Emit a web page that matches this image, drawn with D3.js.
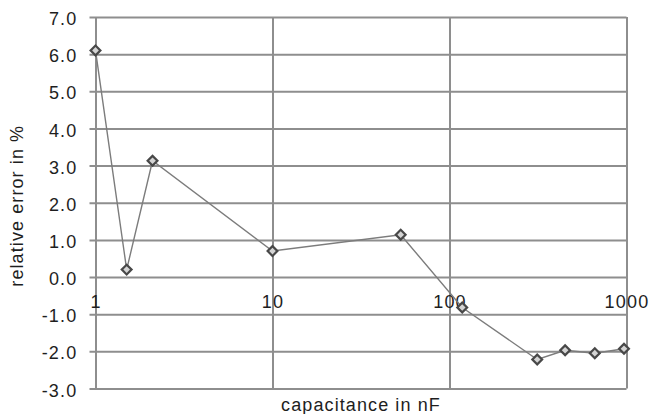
<!DOCTYPE html>
<html>
<head>
<meta charset="utf-8">
<script src="https://cdn.jsdelivr.net/npm/d3@7"></script>
<style>
  html, body { margin: 0; padding: 0; background: #fff; }
  svg { display: block; }
  text { font-family: "Liberation Sans", Arial, sans-serif; fill: #1e1e1e; }
</style>
</head>
<body>
<svg id="chart" width="662" height="414"></svg>
<script>
// ---- data ----
const capacitance = [1.0, 1.5, 2.1, 10, 53, 118, 313, 450, 662, 968];
const relError    = [6.1, 0.2, 3.13, 0.7, 1.14, -0.82, -2.22, -1.97, -2.05, -1.93];
const xTicks = [1, 10, 100, 1000];
const xTickLabels = ["1", "10", "100", "1000"];
const yTicks = [-3, -2, -1, 0, 1, 2, 3, 4, 5, 6, 7];
const xTitle = "capacitance in nF";
const yTitle = "relative error in %";

// ---- layout ----
const mLeft = 95.5, mRight = 626.5, mTop = 17, mBottom = 388.5;
const svg = d3.select("#chart");
const x = d3.scaleLog().domain([1, 1000]).range([mLeft, mRight]);
const y = d3.scaleLinear().domain([-3, 7]).range([mBottom, mTop]);

const gridColor = "#8e8e8e";
const fmtY = d => d.toFixed(1);

// horizontal gridlines + y tick labels
const yAxis = svg.append("g")
  .attr("transform", `translate(${mLeft - 6},0)`)
  .call(d3.axisLeft(y).tickValues(yTicks).tickSize(-(mRight - mLeft + 6)).tickPadding(12)
        .tickFormat(fmtY));
yAxis.select(".domain").remove();
yAxis.selectAll("line").attr("stroke", gridColor).attr("stroke-width", 2);
yAxis.selectAll("text").attr("font-size", 18).attr("letter-spacing", "1.2px")
  .attr("fill", "#1e1e1e").attr("dy", "0.42em");
yAxis.attr("font-family", null).attr("font-size", null);

// vertical gridlines
const xGrid = svg.append("g")
  .attr("transform", `translate(0,${mBottom})`)
  .call(d3.axisBottom(x).tickValues(xTicks).tickSize(-(mBottom - mTop)).tickFormat(""));
xGrid.select(".domain").remove();
xGrid.selectAll("line").attr("stroke", gridColor).attr("stroke-width", 2);

// x tick labels (axis crosses at y = 0)
const xAxis = svg.append("g")
  .attr("transform", `translate(0,${y(0)})`)
  .call(d3.axisBottom(x).tickValues(xTicks).tickSize(0).tickPadding(18)
        .tickFormat((d, i) => xTickLabels[i]));
xAxis.select(".domain").remove();
xAxis.selectAll("text").attr("font-size", 18).attr("letter-spacing", "1.2px")
  .attr("fill", "#1e1e1e");
xAxis.attr("font-family", null).attr("font-size", null);

// data line
const pts = capacitance.map((c, i) => [c, relError[i]]);
svg.append("path")
  .datum(pts)
  .attr("fill", "none")
  .attr("stroke", "#7c7c7c")
  .attr("stroke-width", 1.4)
  .attr("d", d3.line().x(d => x(d[0])).y(d => y(d[1])));

// markers (diamonds)
svg.append("g").selectAll("path")
  .data(pts)
  .join("path")
  .attr("d", d3.symbol(d3.symbolSquare, 48))
  .attr("transform", d => `translate(${x(d[0])},${y(d[1])}) rotate(45)`)
  .attr("fill", "#d4d4d4")
  .attr("stroke", "#484848")
  .attr("stroke-width", 2.2);

// axis titles
svg.append("text")
  .attr("x", (mLeft + mRight) / 2)
  .attr("y", 411)
  .attr("text-anchor", "middle")
  .attr("font-size", 18)
  .attr("letter-spacing", "1.1px")
  .text(xTitle);

svg.append("text")
  .attr("transform", `translate(23,${(mTop + mBottom) / 2 + 3}) rotate(-90)`)
  .attr("text-anchor", "middle")
  .attr("font-size", 18)
  .attr("letter-spacing", "1.1px")
  .text(yTitle);
</script>
</body>
</html>
